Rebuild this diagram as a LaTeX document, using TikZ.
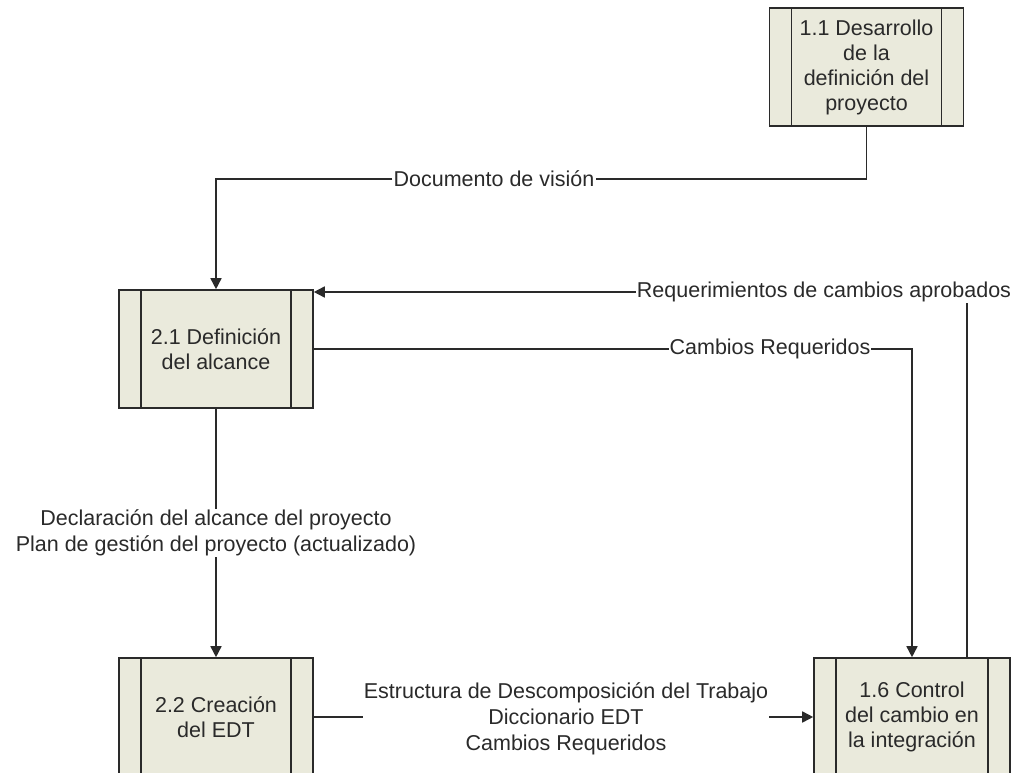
\documentclass[tikz,border=0pt]{standalone}
\usepackage{fontspec}
\setmainfont{Liberation Sans}
\usetikzlibrary{arrows.meta,backgrounds}
\definecolor{boxfill}{HTML}{EAEADC}
\definecolor{ink}{HTML}{2A2A2A}
\begin{document}
\begin{tikzpicture}[x=1pt,y=-1pt,
  every node/.style={font=\fontsize{21.5}{25}\selectfont, text=ink},
  proc/.style={draw=ink, line width=1.6pt, fill=boxfill,
    minimum width=194pt, minimum height=118pt, align=center, inner sep=0pt,
    path picture={\draw[ink,line width=1.6pt]
      ([xshift=22pt]path picture bounding box.north west) -- ([xshift=22pt]path picture bounding box.south west)
      ([xshift=-22pt]path picture bounding box.north east) -- ([xshift=-22pt]path picture bounding box.south east);}},
  flow/.style={draw=ink, line width=1.6pt},
  arr/.style={flow, -{Triangle[length=11pt,width=11pt]}},
  lbl/.style={fill=white, align=center, inner sep=1pt,
    font=\fontsize{21.5}{26}\selectfont}
]
\useasboundingbox (0,0) rectangle (1018,773);

% processes
\node[proc] (p11) at (866.5,67) {1.1 Desarrollo\\de la\\definición del\\proyecto};
\node[proc] (p21) at (216,349) {2.1 Definición\\del alcance};
\node[proc] (p22) at (216,717) {2.2 Creación\\del EDT};
\node[proc, minimum width=196pt] (p16) at (912,717) {1.6 Control\\del cambio en\\la integración};

% flow labels
\node[lbl] (l1) at (494,179) {Documento de visión};
\node[lbl] (l2) at (770,349) {Cambios Requeridos};
\node[lbl] (l3) at (824,292) {Requerimientos de cambios aprobados};
\node[lbl] (l4) at (216,533) {Declaración del alcance del proyecto\\Plan de gestión del proyecto (actualizado)};
\node[lbl] (l5) at (566,719) {Estructura de Descomposición del Trabajo\\Diccionario EDT\\Cambios Requeridos};

% page background and data flows, beneath boxes and labels
\begin{scope}[on background layer]
  \fill[white] (0,0) rectangle (1018,773);
  \draw[arr] (p11.south) |- (l1) -| (p21.north);
  \draw[arr] (p21.east) -| (p16.north);
  \draw[flow] ([xshift=55pt]p16.north) -- ([xshift=55pt]p16.north |- l3.south);
  \draw[arr] (l3.west) -- (l3.west -| p21.east);
  \draw[arr] (p21.south) -- (p22.north);
  \draw[arr] (p22.east) -- (p16.west);
\end{scope}
\end{tikzpicture}
\end{document}
